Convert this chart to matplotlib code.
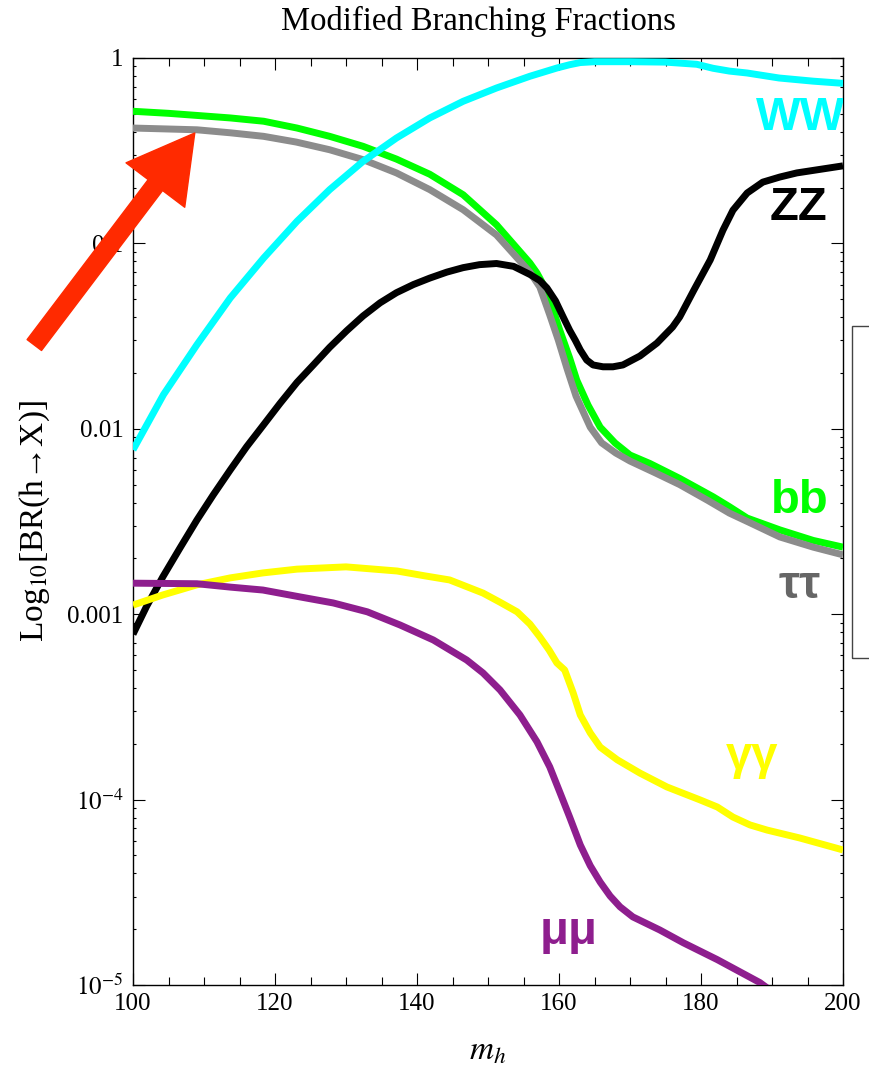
import matplotlib
matplotlib.use("Agg")
import matplotlib.pyplot as plt
from matplotlib.patches import FancyArrowPatch, Rectangle, ArrowStyle
from matplotlib.ticker import FixedLocator, FixedFormatter, MultipleLocator, LogLocator, NullFormatter

plt.rcParams["font.family"] = ["Liberation Serif", "DejaVu Serif"]
plt.rcParams["mathtext.fontset"] = "stix"

# branching ratios vs Higgs mass (GeV)
m_ww = [100, 104.3, 109, 113.7, 118.4, 123.1, 127.7, 132.4, 137.1, 141.8, 146.5, 151.2, 155.9,
        159.7, 161.5, 163, 165, 170, 175, 179.4, 181.7, 184, 186.5, 191, 195.8, 200]
br_ww = [0.0077, 0.0153, 0.0284, 0.0508, 0.0834, 0.1316, 0.195, 0.277, 0.370, 0.475, 0.584,
         0.689, 0.797, 0.883, 0.92, 0.945, 0.955, 0.955, 0.95, 0.925, 0.88, 0.85, 0.83, 0.78,
         0.75, 0.73]

m_zz = [100, 101.9, 104.2, 106.6, 109, 111.3, 113.7, 116, 118.3, 120.7, 123.1, 125.4, 127.7,
        130.1, 132.4, 134.8, 137.1, 139.5, 141.8, 144.2, 146.5, 148.8, 151.2, 153.6, 155.9,
        157.3, 158.3, 159.5, 160.6, 161.5, 162.3, 163, 163.9, 164.8, 166.2, 167.6, 169, 171.4,
        173.8, 176, 177, 179, 181.3, 183.1, 184.5, 186.5, 188.7, 191.1, 193.5, 200]
br_zz = [7.8e-4, 1.10e-3, 1.59e-3, 2.27e-3, 3.22e-3, 4.40e-3, 6.0e-3, 8.0e-3, 0.0104, 0.0137,
         0.0178, 0.0221, 0.0275, 0.0338, 0.0406, 0.0478, 0.0542, 0.0600, 0.0650, 0.0700, 0.0740,
         0.0768, 0.0779, 0.0752, 0.0680, 0.0630, 0.0575, 0.049, 0.040, 0.034, 0.0300, 0.0266,
         0.0235, 0.0221, 0.0216, 0.0216, 0.0221, 0.0247, 0.0290, 0.0354, 0.0401, 0.056, 0.0814,
         0.118, 0.151, 0.187, 0.214, 0.228, 0.240, 0.262]

m_bb = [100, 105, 109, 113.7, 118.4, 123.1, 127.7, 132.4, 137.1, 141.8, 146.5, 151.2, 155.9,
        156.9, 158.3, 160.1, 161.5, 162.5, 164.1, 165.8, 167.9, 170, 172.8, 177, 181.7, 184,
        186.5, 191.1, 195.8, 200]
br_bb = [0.516, 0.503, 0.490, 0.475, 0.456, 0.419, 0.378, 0.334, 0.285, 0.236, 0.183, 0.126,
         0.0784, 0.0692, 0.0552, 0.0341, 0.0241, 0.0183, 0.0134, 0.0102, 0.00838, 0.00722,
         0.0065, 0.0054, 0.0043, 0.0038, 0.0033, 0.00285, 0.0025, 0.0023]

m_tt = [100, 104, 109, 113.7, 118.4, 123, 127.7, 132.4, 137.1, 141.8, 146.5, 151.2, 155.9,
        157.3, 158.7, 159.9, 161.1, 162.4, 164.4, 166, 168, 170, 173.5, 177, 181, 184, 187,
        191.1, 195.8, 200]
br_tt = [0.419, 0.415, 0.410, 0.395, 0.378, 0.352, 0.320, 0.283, 0.240, 0.195, 0.152, 0.111,
         0.0700, 0.0582, 0.0411, 0.0301, 0.0213, 0.0150, 0.0102, 0.0084, 0.0074, 0.0067,
         0.0058, 0.0050, 0.0041, 0.00351, 0.0031, 0.00261, 0.0023, 0.00209]

m_aa = [100, 104.2, 109, 113.7, 118.3, 123.1, 130, 137.2, 141.1, 144.6, 149.3, 151.7, 154.1,
        155.9, 157.3, 158.6, 159.7, 160.8, 162, 163, 164.4, 165.8, 168.2, 171.4, 175.2, 179.9,
        182.3, 184.5, 186.9, 189.3, 193.9, 200]
br_aa = [1.12e-3, 1.27e-3, 1.44e-3, 1.57e-3, 1.67e-3, 1.75e-3, 1.80e-3, 1.71e-3, 1.61e-3,
         1.53e-3, 1.30e-3, 1.16e-3, 1.03e-3, 8.85e-4, 7.54e-4, 6.41e-4, 5.46e-4, 5.0e-4,
         3.76e-4, 2.86e-4, 2.29e-4, 1.92e-4, 1.64e-4, 1.39e-4, 1.17e-4, 9.95e-5, 9.12e-5,
         8.05e-5, 7.30e-5, 6.85e-5, 6.21e-5, 5.35e-5]

m_mm = [100, 109, 113.7, 118.3, 123.5, 128.2, 133, 137.6, 142.3, 147, 149.3, 151.7, 154.5,
        156.9, 158.7, 160.1, 161.5, 163, 164.4, 165.8, 167.2, 168.6, 170.4, 174.2, 177.5, 182.3,
        188.3, 189.7]
br_mm = [1.47e-3, 1.46e-3, 1.40e-3, 1.35e-3, 1.24e-3, 1.15e-3, 1.03e-3, 8.75e-4, 7.26e-4,
         5.66e-4, 4.82e-4, 3.90e-4, 2.86e-4, 2.05e-4, 1.50e-4, 1.10e-4, 8.05e-5, 5.69e-5,
         4.40e-5, 3.59e-5, 3.02e-5, 2.64e-5, 2.33e-5, 1.98e-5, 1.69e-5, 1.37e-5, 1.03e-5, 9.4e-6]

y_ticks = [1e-5, 1e-4, 1e-3, 1e-2, 1e-1, 1]
y_ticklabels = ["$10^{-5}$", "$10^{-4}$", "0.001", "0.01", "0.1", "1"]

fig = plt.figure(figsize=(8.69, 10.73), dpi=100)
ax = fig.add_axes([133 / 869, 88 / 1073, 710 / 869, 927 / 1073])

line = dict(lw=5, solid_capstyle="butt", solid_joinstyle="round")
ax.plot(m_bb, br_bb, color="#00ff00", zorder=3, **line)
ax.plot(m_tt, br_tt, color="#8c8c8c", zorder=3.1, **line)
ax.plot(m_ww, br_ww, color="#00ffff", zorder=3.2, **line)
ax.plot(m_zz, br_zz, color="black", zorder=3.3, **line)
ax.plot(m_aa, br_aa, color="#ffff00", zorder=3.4, **line)
ax.plot(m_mm, br_mm, color="#8e1e8e", zorder=3.5, **line)

ax.set_yscale("log")
ax.set_xlim(100, 200)
ax.set_ylim(1e-5, 1)

ax.xaxis.set_major_locator(MultipleLocator(20))
ax.xaxis.set_minor_locator(MultipleLocator(5))
ax.yaxis.set_major_locator(FixedLocator(y_ticks))
ax.yaxis.set_major_formatter(FixedFormatter(y_ticklabels))
ax.yaxis.set_minor_locator(LogLocator(base=10, subs=range(2, 10)))
ax.yaxis.set_minor_formatter(NullFormatter())

ax.tick_params(which="both", direction="in", top=True, right=True, width=0.8, labelsize=18)
ax.tick_params(which="major", length=8.5)
ax.xaxis.set_tick_params(which="minor", length=6)
ax.yaxis.set_tick_params(which="minor", length=2.5)
ax.tick_params(axis="x", pad=6)
ax.tick_params(axis="y", pad=7)
for sp in ax.spines.values():
    sp.set_linewidth(1.0)

ax.set_xlabel("$m_h$", fontsize=24, labelpad=15)
ax.set_ylabel("Log$_{10}$[BR(h→X)]", fontsize=24, labelpad=11)
fig.text(478 / 869, 1 - 21 / 1073, "Modified Branching Fractions", fontsize=23.5,
         ha="center", va="center")

# channel labels
lab = dict(family=["Liberation Sans", "DejaVu Sans"], fontweight="bold", fontsize=34,
           ha="center", va="baseline", clip_on=True, zorder=4)
ax.text(194, 0.409, "WW", color="#00ffff", **lab)
ax.text(193.7, 0.134, "ZZ", color="black", **lab)
ax.text(193.9, 0.00351, "bb", color="#00ff00", **lab)
ax.text(193.9, 1.22e-3, "ττ", color="#666666", **lab)
ax.text(187.2, 1.46e-4, "γγ", color="#ffff00", **lab)
ax.text(161.3, 1.66e-5, "μμ", color="#8e1e8e", **lab)

# arrow pointing at the tau curve
arrow = FancyArrowPatch(posA=(86.1, 0.0283), posB=(108.7, 0.394),
                        arrowstyle=ArrowStyle.Simple(head_length=47, head_width=53, tail_width=13),
                        mutation_scale=1, transform=ax.transData, color="#ff2a00",
                        shrinkA=0, shrinkB=0, clip_on=False, zorder=10)
ax.add_patch(arrow)

# edge of the legend panel on the right
fig.patches.append(Rectangle((852 / 869, 1 - 658 / 1073), 0.2, 332 / 1073,
                             transform=fig.transFigure, fill=False,
                             edgecolor="#444444", lw=1.0))

fig.savefig("out.png", dpi=100)
